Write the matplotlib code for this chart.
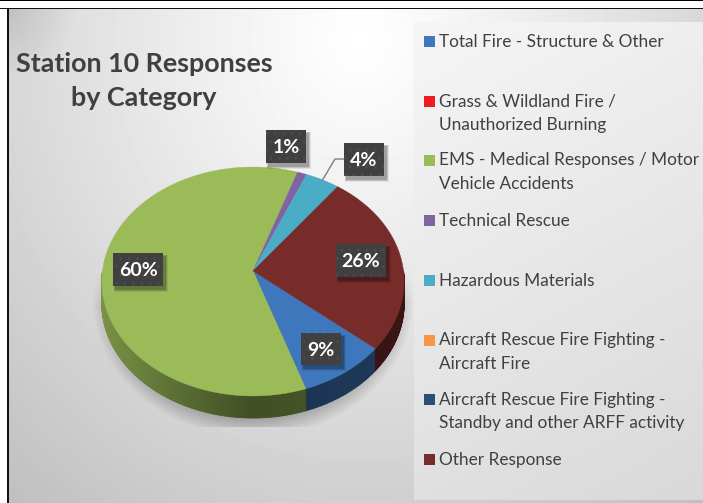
import numpy as np
import matplotlib
matplotlib.use("Agg")
import matplotlib.pyplot as plt
from matplotlib.patches import Rectangle, Polygon
from matplotlib.collections import PolyCollection

W, H = 703, 503
FONT = "Lato"

title = "Station 10 Responses\nby Category"
categories = [
    "Total Fire - Structure & Other",
    "Grass & Wildland Fire /\nUnauthorized Burning",
    "EMS - Medical Responses / Motor\nVehicle Accidents",
    "Technical Rescue",
    "Hazardous Materials",
    "Aircraft Rescue Fire Fighting -\nAircraft Fire",
    "Aircraft Rescue Fire Fighting -\nStandby and other ARFF activity",
    "Other Response",
]
values = [8.7, 0.0, 60.4, 1.1, 4.0, 0.0, 0.0, 25.8]
colors = ["#3f77bc", "#ed1c24", "#9bbb59", "#8064a2", "#4bacc6", "#f79646", "#2c4d75", "#772c2a"]
start_angle = 130.0

# layout
cx, cy = 253.0, 271.0      # apex of the pie on screen
rx, ry, persp = 150.5, 113.5, 0.0917
depth = 22.0
label_boxes = {0: (321, 349, 40, 32), 2: (138, 269.5, 50, 33), 3: (286, 146.5, 40, 33),
               4: (364, 159.5, 40, 33), 7: (361, 260.5, 50, 33)}
legend_y = [41, 101, 160, 220, 280, 340, 399, 459]


def project(theta_deg):
    t = np.radians(theta_deg)
    x, y = np.sin(t), np.cos(t)
    d = 1 + persp * y
    return cx + rx * x / d, cy - ry * y / d


fig = plt.figure(figsize=(W / 100, H / 100), dpi=100)
ax = fig.add_axes([0, 0, 1, 1])
ax.set_xlim(0, W)
ax.set_ylim(H, 0)
ax.axis("off")

yy, xx = np.mgrid[0:H, 0:W] + 0.5

# chart-area gradient
dist = np.hypot((xx - 360) / 420, (yy - 40) / 470)
bg = np.clip(1.0 - 0.19 * np.clip(dist, 0, 1.3) ** 1.1, 0, 1)
corner = np.clip(1 - np.hypot(xx - 8, yy - 8) / 70, 0, 1)
bg = bg - 0.09 * corner
ax.imshow(bg, cmap="gray", vmin=0, vmax=1, extent=(0, W, H, 0), zorder=0, aspect="auto")

# white margin and black frame lines
ax.add_patch(Rectangle((0, 0), W, 8, fc="white", ec="none", zorder=1))
ax.add_patch(Rectangle((0, 0), 8, H, fc="white", ec="none", zorder=1))
ax.add_patch(Rectangle((0, 0), W, 1.2, fc="black", ec="none", zorder=6))
ax.add_patch(Rectangle((0, 8), W, 1.4, fc="#111111", ec="none", zorder=6))
ax.add_patch(Rectangle((7, 8), 1.5, H, fc="#111111", ec="none", zorder=6))

# soft pie shadow
d_sh = np.hypot((xx - 253) / 161, (yy - 300) / 137)
sh = np.clip((1.0 - d_sh) / 0.16, 0, 1)
sh = sh * np.clip((yy - 272) / 30, 0, 1) * (yy < 427)
rgba = np.zeros((H, W, 4))
rgba[..., :3] = 0.35
rgba[..., 3] = 0.5 * sh
ax.imshow(rgba, extent=(0, W, H, 0), zorder=1.5, aspect="auto")

# legend panel
pd = np.clip((yy - 22) / 478 * 0.75 + (xx - 414) / 289 * 0.25, 0, 1)
panel = 0.965 - 0.115 * pd
panel_rgba = np.dstack([panel, panel, panel, np.ones_like(panel)])
panel_im = ax.imshow(panel_rgba, extent=(0, W, H, 0), zorder=2, aspect="auto")
panel_im.set_clip_path(Rectangle((414, 22), W - 414, 478, transform=ax.transData))

# pie
total = sum(values)
angle = start_angle
spans = []
for v in values:
    span = v / total * 360.0
    spans.append((angle, angle + span))
    angle += span


def shade(px):
    u = (px - cx) / 151.0
    return 0.42 + 0.36 * max(-u, 0) ** 1.1 + 0.06 * max(u, 0)


for (a0, a1), v, c in zip(spans, values, colors):
    if v <= 0:
        continue
    th = np.arange(a0, a1 + 0.5, 0.5)
    th = th[(np.mod(th, 360) >= 90) & (np.mod(th, 360) <= 270)]
    base = np.array(matplotlib.colors.to_rgb(c))
    if len(th) > 1:
        X, Y = project(th)
        quads, fc = [], []
        for i in range(len(th) - 1):
            quads.append([(X[i], Y[i]), (X[i + 1], Y[i + 1]),
                          (X[i + 1], Y[i + 1] + depth), (X[i], Y[i] + depth)])
            fc.append(np.clip(base * shade((X[i] + X[i + 1]) / 2), 0, 1))
        ax.add_collection(PolyCollection(quads, facecolors=fc, edgecolors=fc, linewidths=0.6, zorder=3))

for (a0, a1), v, c in zip(spans, values, colors):
    if v <= 0:
        continue
    th = np.linspace(a0, a1, max(3, int((a1 - a0) * 2)))
    X, Y = project(th)
    pts = np.column_stack([np.r_[cx, X], np.r_[cy, Y]])
    ax.add_patch(Polygon(pts, closed=True, fc=c, ec=c, lw=0.3, zorder=4))

# leader line of the 4% label
a_mid = (spans[4][0] + spans[4][1]) / 2
lx, ly = project(a_mid)
ax.plot([lx, 335, 344], [ly, 159, 159], color="#7f7f7f", lw=1.0, zorder=5)

# data labels
plt.rcParams["hatch.linewidth"] = 0.6
for i, (bx, by, bw, bh) in label_boxes.items():
    x0, y0 = bx - bw / 2, by - bh / 2
    for g, al in zip((5, 3.5, 2), (0.08, 0.12, 0.18)):
        ax.add_patch(Rectangle((x0 + 2 - g / 2 + 1, y0 + 3 - g / 2 + 1), bw + g - 1, bh + g - 1,
                               fc="black", ec="none", alpha=al, zorder=5))
    ax.add_patch(Rectangle((x0, y0), bw, bh, fc="#404040", ec="#4e4e4e", hatch="..", lw=0, zorder=5.5))
    ax.text(bx, by + 1, f"{values[i]:.0f}%", color="white", fontsize=14, fontweight="bold",
            family=FONT, ha="center", va="center", zorder=6)

# title
ax.text(144, 81, title, color="#404040", fontsize=19.4, fontweight="bold", family=FONT,
        ha="center", va="center", linespacing=1.48, zorder=6)

# legend
for name, c, y in zip(categories, colors, legend_y):
    ax.add_patch(Rectangle((424, y - 5.5), 11, 11, fc=c, ec="none", zorder=6))
    ax.text(439, y - 7.5, name, color="#404040", fontsize=12.4, family=FONT,
            ha="left", va="top", linespacing=1.56, zorder=6)

fig.savefig("out.png", dpi=100)
